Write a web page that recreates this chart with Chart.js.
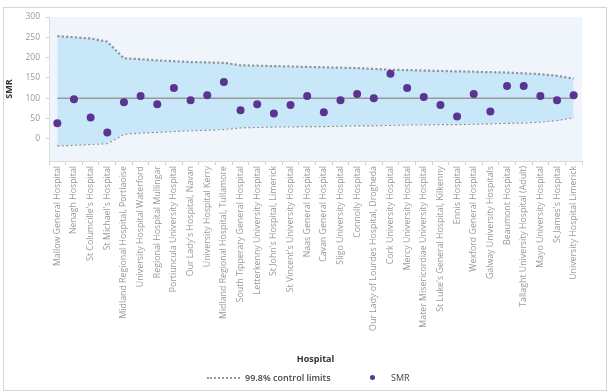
<!DOCTYPE html>
<html>
<head>
<meta charset="utf-8">
<script src="https://cdn.jsdelivr.net/npm/chart.js@4.4.0/dist/chart.umd.min.js"></script>
<style>
  html, body { margin: 0; padding: 0; background: #fff; }
  #wrap { position: relative; width: 608px; height: 392px; overflow: hidden; font-family: "Open Sans", sans-serif; }
  #frame { position: absolute; left: 3px; top: 7px; width: 604px; height: 384px; border: 1px solid #d6d6d6; box-sizing: border-box; }
  #chart { position: absolute; left: 0; top: 0; }
  .leg { position: absolute; font-size: 9px; color: #444; white-space: nowrap; }
  #legLine { position: absolute; left: 207px; top: 377px; width: 33px; height: 0; border-top: 2px dotted #999; }
  #legDot { position: absolute; left: 370px; top: 375px; width: 5px; height: 5px; border-radius: 50%; background: #5a3490; }
</style>
</head>
<body>
<div id="wrap">
  <div id="frame"></div>
  <canvas id="chart" width="608" height="392"></canvas>
  <div id="legLine"></div>
  <div class="leg" style="left:245px; top:371px; font-weight:600;">99.8% control limits</div>
  <div id="legDot"></div>
  <div class="leg" style="left:391px; top:371px;">SMR</div>
</div>
<script>
// Hospitals, ordered as on the x axis
const hospitals = [
  "Mallow General Hospital", "Nenagh Hospital", "St Columcille's Hospital", "St Michael's Hospital",
  "Midland Regional Hospital, Portlaoise", "University Hospital Waterford", "Regional Hospital Mullingar",
  "Portiuncula University Hospital", "Our Lady's Hospital, Navan", "University Hospital Kerry",
  "Midland Regional Hospital, Tullamore", "South Tipperary General Hospital", "Letterkenny University Hospital",
  "St John's Hospital, Limerick", "St Vincent's University Hospital", "Naas General Hospital",
  "Cavan General Hospital", "Sligo University Hospital", "Connolly Hospital",
  "Our Lady of Lourdes Hospital, Drogheda", "Cork University Hospital", "Mercy University Hospital",
  "Mater Misericordiae University Hospital", "St Luke's General Hospital, Kilkenny", "Ennis Hospital",
  "Wexford General Hospital", "Galway University Hospitals", "Beaumont Hospital",
  "Tallaght University Hospital (Adult)", "Mayo University Hospital", "St James's Hospital",
  "University Hospital Limerick"
];

const smr = [38, 97, 52, 15, 90, 105, 85, 125, 95, 107, 140, 70, 85, 62, 83, 105,
             65, 95, 110, 100, 160, 125, 103, 83, 55, 110, 67, 130, 130, 105, 95, 107];

const upperLimit = [253, 250, 247, 239, 198, 196, 193, 191, 189, 188, 187, 181, 180, 179, 178, 177,
                    176, 175, 174, 172, 170, 169, 168, 167, 166, 165, 164, 163, 161, 159, 155, 148];

const lowerLimit = [-17, -15, -13, -11, 12, 15, 17, 19, 21, 22, 24, 28, 29, 30, 30, 31,
                    31, 32, 33, 33, 34, 35, 35, 36, 36, 37, 38, 39, 40, 42, 46, 53];

const targetLine = [100, 100, 100, 100, 100, 100, 100, 100, 100, 100, 100, 100, 100, 100, 100, 100,
                    100, 100, 100, 100, 100, 100, 100, 100, 100, 100, 100, 100, 100, 100, 100, 100];

const yTicks = [0, 50, 100, 150, 200, 250, 300];

Chart.defaults.font.family = '"Open Sans", sans-serif';

// light background behind the plot area
const plotBg = {
  id: "plotBg",
  beforeDraw(chart) {
    const { ctx, chartArea: a } = chart;
    ctx.save();
    ctx.fillStyle = "#eff5fb";
    ctx.fillRect(a.left, a.top, a.right - a.left, a.bottom - a.top);
    ctx.restore();
  }
};

new Chart(document.getElementById("chart"), {
  type: "line",
  data: {
    labels: hospitals,
    datasets: [
      {
        label: "SMR",
        data: smr,
        showLine: false,
        pointRadius: 4,
        pointBackgroundColor: "#5a3490",
        pointBorderWidth: 0,
        order: 0
      },
      {
        label: "Target",
        data: targetLine,
        borderColor: "#999",
        borderWidth: 1.5,
        pointRadius: 0,
        fill: false,
        order: 1
      },
      {
        label: "99.8% control limits",
        data: upperLimit,
        borderColor: "#8f949c",
        borderWidth: 2.2,
        borderDash: [2.2, 2.2],
        pointRadius: 0,
        fill: "+1",
        backgroundColor: "#c8e8fa",
        order: 2
      },
      {
        label: "lower",
        data: lowerLimit,
        borderColor: "#8f949c",
        borderWidth: 2.2,
        borderDash: [2.2, 2.2],
        pointRadius: 0,
        fill: false,
        order: 3
      }
    ]
  },
  options: {
    responsive: false,
    animation: false,
    layout: { padding: { top: 17, left: 4, right: 26, bottom: 26 } },
    plugins: {
      legend: { display: false },
      tooltip: { enabled: false }
    },
    scales: {
      x: {
        offset: true,
        afterFit: (s) => { s.height = 205; },
        grid: { display: true, drawOnChartArea: false, offset: true, tickLength: 4, color: "#d0d0d0" },
        border: { display: true, color: "#dcdcdc" },
        ticks: { color: "#999", font: { size: 8.8 }, autoSkip: false, maxRotation: 90, minRotation: 90, padding: 1 },
        title: { display: true, text: "Hospital", color: "#333", font: { size: 9, weight: "bold" }, padding: { top: 0, bottom: 1 } }
      },
      y: {
        min: -55,
        max: 300,
        afterBuildTicks: (s) => { s.ticks = yTicks.map((v) => ({ value: v })); },
        afterFit: (s) => { s.width = 45; },
        grid: { display: true, drawOnChartArea: false, tickLength: 3, color: "#d0d0d0" },
        border: { display: true, color: "#dcdcdc" },
        ticks: { color: "#999", font: { size: 8.5 }, padding: 6 },
        title: { display: true, text: "SMR", color: "#333", font: { size: 9, weight: "bold" }, padding: 0 }
      }
    }
  },
  plugins: [plotBg]
});
</script>
</body>
</html>
